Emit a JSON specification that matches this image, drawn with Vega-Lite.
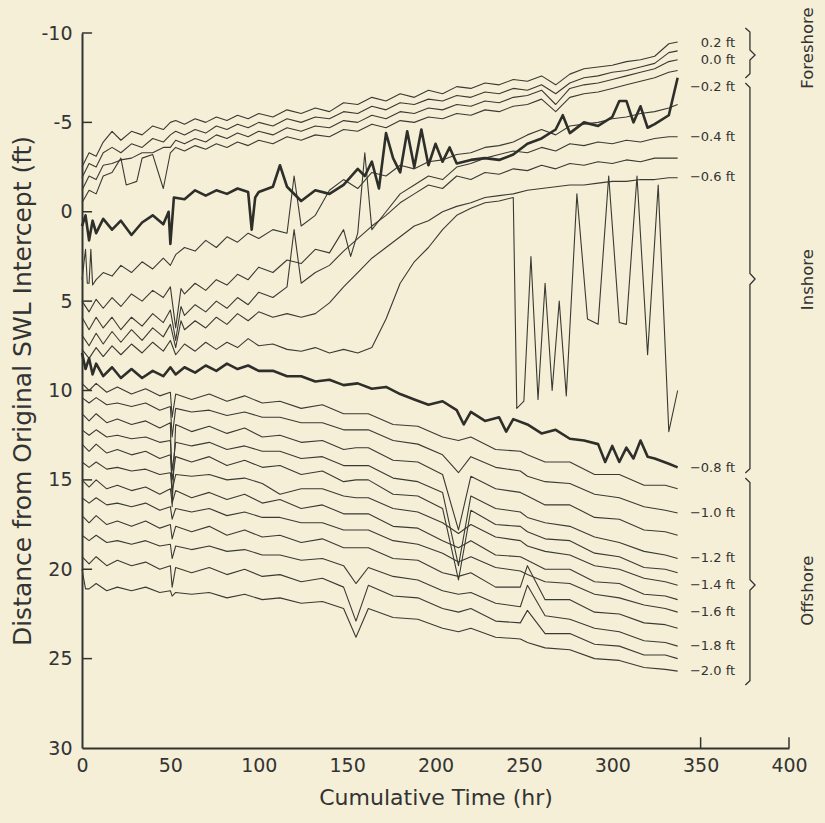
{
"$schema":"https://vega.github.io/schema/vega-lite/v6.json",
"width":707,"height":715,"autosize":"none",
"padding":{"left":82,"top":33,"right":36,"bottom":75},
"background":"#f4efd6",
"config":{"view":{"stroke":null},"axis":{"labelFont":"DejaVu Sans","titleFont":"DejaVu Sans","labelColor":"#333","titleColor":"#333","titleFontWeight":"normal","domainColor":"#333","domainWidth":2},"text":{"font":"DejaVu Sans","color":"#333"}},
"datasets":{
"lines":[
{"t":0,"a":-2.5,"b":-1.9,"c":-1.2,"d":-0.5,"f":3.8,"g":5.0,"h":5.9,"i":6.9},
{"t":4,"a":-3.3,"b":-2.7,"c":-2.0,"d":-1.2,"f":4.0,"g":5.6,"h":6.6,"i":7.5},
{"t":8,"a":-3.1,"b":-2.5,"c":-1.8,"d":-1.0,"f":3.8,"g":4.9,"h":5.9,"i":6.8},
{"t":12,"a":-3.9,"b":-3.3,"c":-2.6,"d":-2.0,"f":3.4,"g":5.4,"h":6.5,"i":7.4},
{"t":17,"a":-4.5,"b":-3.6,"c":-2.7,"d":-2.2,"f":3.6,"g":4.8,"h":5.9,"i":6.7},
{"t":22,"a":-4.0,"b":-3.3,"c":-2.9,"d":-3.0,"f":3.0,"g":5.3,"h":6.6,"i":7.3},
{"t":28,"a":-4.5,"b":-3.8,"c":-3.0,"d":-1.6,"f":3.4,"g":4.6,"h":5.9,"i":6.6},
{"t":34,"a":-4.3,"b":-3.6,"c":-3.3,"d":-3.0,"f":2.8,"g":5.0,"h":6.4,"i":7.2},
{"t":40,"a":-4.8,"b":-4.1,"c":-3.3,"d":-3.2,"f":3.2,"g":4.4,"h":5.7,"i":6.5},
{"t":46,"a":-4.6,"b":-3.9,"c":-3.6,"d":-1.3,"f":2.6,"g":4.8,"h":6.2,"i":7.0},
{"t":50,"a":-5.0,"b":-4.3,"c":-3.6,"d":-3.3,"f":3.0,"g":4.2,"h":5.5,"i":6.3},
{"t":53,"a":-5.1,"b":-4.5,"c":-4.0,"d":-3.6,"f":2.4,"g":6.5,"h":7.2,"i":7.6},
{"t":58,"a":-4.9,"b":-4.3,"c":-3.8,"d":-3.4,"f":2.0,"g":4.6,"h":5.8,"i":6.6},
{"t":64,"a":-5.2,"b":-4.6,"c":-4.1,"d":-3.7,"f":2.2,"g":4.0,"h":5.2,"i":6.1},
{"t":70,"a":-5.0,"b":-4.4,"c":-3.9,"d":-3.5,"f":1.6,"g":4.4,"h":5.6,"i":6.5},
{"t":76,"a":-5.3,"b":-4.8,"c":-4.3,"d":-3.8,"f":2.0,"g":3.8,"h":5.0,"i":5.9},
{"t":82,"a":-5.1,"b":-4.6,"c":-4.1,"d":-3.6,"f":1.4,"g":4.1,"h":5.4,"i":6.3},
{"t":88,"a":-5.4,"b":-4.9,"c":-4.4,"d":-3.9,"f":1.7,"g":3.5,"h":4.8,"i":5.7},
{"t":94,"a":-5.2,"b":-4.7,"c":-4.2,"d":-3.7,"f":1.2,"g":3.8,"h":5.2,"i":6.1},
{"t":100,"a":-5.5,"b":-5.0,"c":-4.5,"d":-4.0,"f":1.5,"g":3.1,"h":4.5,"i":5.6},
{"t":108,"a":-5.3,"b":-4.8,"c":-4.3,"d":-3.8,"f":1.0,"g":3.4,"h":4.8,"i":5.9},
{"t":116,"a":-5.7,"b":-5.2,"c":-4.7,"d":-4.2,"f":1.2,"g":2.7,"h":4.2,"i":5.7},
{"t":124,"a":-5.5,"b":-5.0,"c":-4.5,"d":-4.0,"f":0.8,"g":2.9,"h":4.0,"i":5.9},
{"t":132,"a":-5.8,"b":-5.3,"c":-4.8,"d":-4.3,"f":0.2,"g":2.1,"h":3.4,"i":5.7},
{"t":140,"a":-5.6,"b":-5.2,"c":-4.7,"d":-4.2,"f":-1.2,"g":2.3,"h":3.0,"i":5.1},
{"t":148,"a":-6.1,"b":-5.6,"c":-5.1,"d":-4.6,"f":-1.8,"g":1.0,"h":2.2,"i":4.2},
{"t":156,"a":-6.0,"b":-5.5,"c":-5.0,"d":-4.5,"f":-1.3,"g":1.2,"h":1.5,"i":3.4},
{"t":164,"a":-6.4,"b":-5.9,"c":-5.4,"d":-4.9,"f":-2.2,"g":1.0,"h":0.8,"i":2.6},
{"t":172,"a":-6.2,"b":-5.7,"c":-5.2,"d":-4.7,"f":-2.0,"g":0.0,"h":0.2,"i":2.0},
{"t":180,"a":-6.6,"b":-6.1,"c":-5.6,"d":-5.1,"f":-2.6,"g":-1.0,"h":-0.5,"i":1.4},
{"t":188,"a":-6.4,"b":-6.0,"c":-5.5,"d":-5.0,"f":-2.4,"g":-1.5,"h":-1.0,"i":0.8},
{"t":196,"a":-6.8,"b":-6.3,"c":-5.8,"d":-5.3,"f":-2.8,"g":-2.0,"h":-1.5,"i":0.5},
{"t":204,"a":-6.6,"b":-6.2,"c":-5.7,"d":-5.2,"f":-2.9,"g":-1.8,"h":-1.3,"i":0.0},
{"t":212,"a":-7.0,"b":-6.5,"c":-6.0,"d":-5.5,"f":-3.2,"g":-2.5,"h":-2.0,"i":-0.3},
{"t":220,"a":-6.9,"b":-6.4,"c":-5.9,"d":-5.4,"f":-3.3,"g":-2.7,"h":-1.8,"i":-0.5},
{"t":228,"a":-7.2,"b":-6.7,"c":-6.2,"d":-5.7,"f":-3.6,"g":-3.0,"h":-2.2,"i":-0.8},
{"t":236,"a":-7.1,"b":-6.6,"c":-6.1,"d":-5.6,"f":-3.7,"g":-3.2,"h":-2.1,"i":-0.9},
{"t":244,"a":-7.4,"b":-6.9,"c":-6.4,"d":-5.9,"f":-3.9,"g":-3.4,"h":-2.4,"i":-1.0},
{"t":252,"a":-7.3,"b":-6.8,"c":-6.5,"d":-6.0,"f":-4.3,"g":-3.3,"h":-2.3,"i":-1.2},
{"t":260,"a":-7.6,"b":-7.1,"c":-6.8,"d":-6.3,"f":-4.6,"g":-3.6,"h":-2.6,"i":-1.3},
{"t":268,"a":-7.1,"b":-6.6,"c":-6.0,"d":-5.6,"f":-4.3,"g":-3.4,"h":-2.4,"i":-1.4},
{"t":276,"a":-7.7,"b":-7.2,"c":-6.9,"d":-6.4,"f":-4.8,"g":-3.8,"h":-2.7,"i":-1.5},
{"t":284,"a":-8.0,"b":-7.5,"c":-7.1,"d":-6.6,"f":-4.9,"g":-3.7,"h":-2.6,"i":-1.5},
{"t":292,"a":-8.1,"b":-7.6,"c":-7.2,"d":-6.7,"f":-5.0,"g":-3.9,"h":-2.8,"i":-1.6},
{"t":300,"a":-8.2,"b":-7.8,"c":-7.4,"d":-6.9,"f":-5.2,"g":-3.8,"h":-2.7,"i":-1.7},
{"t":308,"a":-8.4,"b":-7.9,"c":-7.6,"d":-7.1,"f":-5.3,"g":-4.0,"h":-2.9,"i":-1.7},
{"t":316,"a":-8.5,"b":-8.1,"c":-7.8,"d":-7.3,"f":-5.5,"g":-3.9,"h":-2.8,"i":-1.8},
{"t":324,"a":-8.7,"b":-8.3,"c":-8.0,"d":-7.5,"f":-5.6,"g":-4.1,"h":-3.0,"i":-1.8},
{"t":332,"a":-9.4,"b":-8.9,"c":-8.4,"d":-7.8,"f":-5.8,"g":-4.2,"h":-3.0,"i":-1.9},
{"t":337,"a":-9.5,"b":-9.0,"c":-8.5,"d":-7.9,"f":-6.0,"g":-4.2,"h":-3.0,"i":-1.9},
{"t":2,"f":2.1},{"t":3,"f":4.0},{"t":5,"f":2.1},{"t":6,"f":4.1},{"t":25,"d":-1.5},{"t":31,"d":-1.7},
{"t":56,"g":4.3,"h":5.3,"i":6.1},{"t":120,"f":-2.0,"h":1.0},{"t":152,"g":2.5},{"t":160,"g":-3.3},
{"t":0,"e":0.8,"j":7.7,"k":7.9},{"t":2,"e":0.2,"k":8.8},{"t":4,"e":1.6,"j":8.2,"k":8.2},{"t":6,"e":0.5,"k":9.1},
{"t":8,"e":1.2,"j":7.6,"k":8.5},{"t":12,"e":0.4,"j":8.1,"k":9.2},{"t":17,"e":1.0,"j":7.5,"k":8.7},{"t":22,"e":0.5,"j":8.0,"k":9.3},
{"t":28,"e":1.3,"j":7.4,"k":8.8},{"t":34,"e":0.6,"j":7.9,"k":9.3},{"t":40,"e":0.2,"j":7.3,"k":8.9},{"t":46,"e":0.7,"j":7.8,"k":9.2},
{"t":49,"e":0.0},{"t":50,"e":1.8,"j":7.2,"k":8.7},{"t":52,"e":-0.8},{"t":53,"j":8.0,"k":9.1},
{"t":58,"e":-0.7,"j":7.4,"k":8.7},{"t":64,"e":-1.2,"j":7.8,"k":9.0},{"t":70,"e":-0.9,"j":7.3,"k":8.6},{"t":76,"e":-1.2,"j":7.7,"k":8.9},
{"t":82,"e":-1.0,"j":7.3,"k":8.5},{"t":88,"e":-1.3,"j":7.6,"k":8.8},{"t":94,"e":-1.1,"j":7.1,"k":8.6},{"t":96,"e":1.0},{"t":98,"e":-0.8},
{"t":100,"e":-1.1,"j":7.5,"k":8.9},{"t":108,"e":-1.4,"j":7.4,"k":8.9},{"t":112,"e":-2.6},{"t":116,"e":-1.4,"j":7.7,"k":9.2},
{"t":124,"e":-0.6,"j":7.8,"k":9.2},{"t":132,"e":-1.2,"j":7.6,"k":9.5},{"t":140,"e":-1.0,"j":7.9,"k":9.4},{"t":148,"e":-1.5,"j":7.7,"k":9.7},
{"t":156,"e":-2.4,"j":7.9,"k":9.6},{"t":160,"e":-2.0},{"t":164,"e":-2.8,"j":7.6,"k":9.9},{"t":168,"e":-1.3},
{"t":172,"e":-4.4,"j":6.0,"k":9.8},{"t":176,"e":-3.0},{"t":180,"e":-2.2,"j":4.0,"k":10.2},{"t":184,"e":-4.5},
{"t":188,"e":-2.5,"j":2.8,"k":10.5},{"t":192,"e":-4.6},{"t":196,"e":-2.6,"j":2.0,"k":10.8},{"t":200,"e":-3.8},
{"t":204,"e":-2.8,"j":1.0,"k":10.6},{"t":208,"e":-3.6},{"t":212,"e":-2.7,"j":0.2,"k":11.1},{"t":216,"k":11.9},
{"t":220,"e":-2.9,"j":-0.2,"k":11.2},{"t":228,"e":-3.0,"j":-0.5,"k":11.7},{"t":236,"e":-2.9,"j":-0.6,"k":11.5},{"t":240,"k":12.3},
{"t":244,"e":-3.2,"j":-0.8,"k":11.6},{"t":246,"j":11.0},{"t":250,"j":10.6},{"t":252,"e":-3.8,"k":11.9},{"t":254,"j":2.5},
{"t":258,"j":10.5},{"t":260,"e":-4.1,"k":12.4},{"t":262,"j":4.0},{"t":266,"j":10.0},{"t":268,"e":-4.6,"k":12.2},
{"t":270,"j":5.0},{"t":272,"e":-5.4},{"t":274,"j":10.3},{"t":276,"e":-4.4,"k":12.7},{"t":280,"j":-1.0},
{"t":284,"e":-5.0,"k":12.8},{"t":286,"j":6.0},{"t":292,"e":-4.8,"j":6.3,"k":13.0},{"t":296,"k":14.0},{"t":298,"j":-2.0},
{"t":300,"e":-5.3,"k":13.1},{"t":304,"e":-6.2,"j":6.2,"k":14.0},{"t":308,"e":-6.2,"j":6.3,"k":13.2},{"t":312,"e":-5.0,"k":13.8},
{"t":314,"j":-2.0},{"t":316,"e":-5.9,"k":12.8},{"t":320,"e":-4.7,"j":8.0,"k":13.7},{"t":324,"e":-4.9,"k":13.8},{"t":326,"j":-1.5},
{"t":332,"e":-5.4,"j":12.3,"k":14.1},{"t":337,"e":-7.5,"j":10.0,"k":14.3},
{"t":0,"l":9.6,"m":10.4,"n":11.3,"o":12.2,"p":13.0,"q":14.0,"r":15.0,"s":16.0,"u":17.0,"w":18.1,"x":19.3,"z":20.0},
{"t":2,"z":21.1},
{"t":4,"l":10.0,"m":10.7,"n":11.7,"o":12.5,"p":13.4,"q":14.3,"r":15.4,"s":16.3,"u":17.4,"w":18.4,"x":19.7,"z":21.1},
{"t":8,"l":9.6,"m":10.4,"n":11.3,"o":12.2,"p":13.0,"q":14.0,"r":15.0,"s":16.0,"u":17.0,"w":18.1,"x":19.3,"z":20.8},
{"t":14,"l":10.1,"m":10.8,"n":11.8,"o":12.6,"p":13.5,"q":14.4,"r":15.5,"s":16.4,"u":17.5,"w":18.5,"x":19.8,"z":21.2},
{"t":20,"l":9.8,"m":10.7,"n":11.6,"o":12.5,"p":13.3,"q":14.3,"r":15.3,"s":16.3,"u":17.3,"w":18.4,"x":19.5,"z":21.0},
{"t":28,"l":10.2,"m":10.9,"n":11.9,"o":12.7,"p":13.6,"q":14.5,"r":15.6,"s":16.5,"u":17.6,"w":18.6,"x":19.8,"z":21.2},
{"t":36,"l":9.9,"m":10.7,"n":11.7,"o":12.6,"p":13.4,"q":14.4,"r":15.4,"s":16.3,"u":17.3,"w":18.4,"x":19.6,"z":21.0},
{"t":44,"l":10.3,"m":11.1,"n":12.1,"o":12.9,"p":13.8,"q":14.7,"r":15.8,"s":16.7,"u":17.7,"w":18.7,"x":20.0,"z":21.3},
{"t":50,"l":10.1,"m":10.9,"n":11.8,"o":12.8,"p":13.6,"q":14.6,"r":15.5,"s":16.5,"u":17.5,"w":18.6,"x":19.8,"z":21.2},
{"t":51,"l":11.5,"m":12.6,"n":16.5,"o":14.5,"p":15.0,"q":15.6,"r":16.3,"s":17.2,"u":18.3,"w":19.4,"x":21.0,"z":21.5},
{"t":53,"l":10.2,"m":11.0,"n":11.9,"o":12.9,"p":13.7,"q":14.7,"r":15.6,"s":16.6,"u":17.6,"w":18.7,"x":19.9,"z":21.3},
{"t":62,"l":10.5,"m":11.2,"n":12.3,"o":13.1,"p":14.0,"q":14.8,"r":16.0,"s":16.8,"u":17.9,"w":18.9,"x":20.2,"z":21.4},
{"t":72,"l":10.2,"m":11.1,"n":12.0,"o":12.9,"p":13.7,"q":14.7,"r":15.7,"s":16.6,"u":17.6,"w":18.7,"x":19.9,"z":21.3},
{"t":82,"l":10.6,"m":11.4,"n":12.4,"o":13.3,"p":14.2,"q":15.0,"r":16.1,"s":17.0,"u":18.1,"w":19.0,"x":20.3,"z":21.6},
{"t":92,"l":10.3,"m":11.2,"n":12.1,"o":13.1,"p":13.9,"q":14.9,"r":15.8,"s":16.8,"u":17.8,"w":18.9,"x":20.0,"z":21.4},
{"t":102,"l":10.7,"m":11.5,"n":12.6,"o":13.4,"p":14.3,"q":15.2,"r":16.3,"s":17.1,"u":18.2,"w":19.2,"x":20.4,"z":21.7},
{"t":112,"l":10.6,"m":11.5,"n":12.5,"o":13.4,"p":14.2,"q":15.8,"r":16.1,"s":17.1,"u":18.1,"w":19.2,"x":20.3,"z":21.6},
{"t":124,"l":11.0,"m":11.8,"n":12.9,"o":13.8,"p":14.7,"q":15.5,"r":16.6,"s":17.4,"u":18.5,"w":19.5,"x":20.7,"z":21.9},
{"t":136,"l":10.8,"m":11.8,"n":12.8,"o":13.7,"p":14.5,"q":15.5,"r":16.4,"s":17.4,"u":18.3,"w":19.4,"x":20.5,"z":21.8},
{"t":148,"l":11.3,"m":12.2,"n":13.3,"o":14.2,"p":15.1,"q":15.9,"r":16.9,"s":17.8,"u":18.8,"w":19.8,"x":21.0,"z":22.2},
{"t":155,"l":11.3,"m":12.2,"n":13.2,"o":14.2,"p":15.0,"q":16.0,"r":16.9,"s":17.8,"u":18.8,"w":20.8,"x":22.9,"z":23.8},
{"t":162,"l":11.3,"m":12.2,"n":13.2,"o":14.2,"p":15.0,"q":16.0,"r":16.9,"s":17.8,"u":18.8,"w":19.9,"x":20.9,"z":22.2},
{"t":176,"l":11.9,"m":12.8,"n":13.9,"o":14.9,"p":15.8,"q":16.6,"r":17.6,"s":18.4,"u":19.4,"w":20.4,"x":21.5,"z":22.7},
{"t":190,"l":12.0,"m":13.0,"n":14.0,"o":15.1,"p":15.9,"q":16.8,"r":17.7,"s":18.6,"u":19.5,"w":20.6,"x":21.6,"z":22.8},
{"t":204,"l":12.6,"m":13.6,"n":14.7,"o":15.7,"p":16.6,"q":17.4,"r":18.4,"s":19.1,"u":20.2,"w":21.2,"x":22.2,"z":23.3},
{"t":213,"l":12.8,"m":14.6,"n":17.8,"o":19.8,"p":20.6,"q":18.0,"r":18.8,"s":19.6,"u":20.4,"w":21.4,"x":22.4,"z":23.5},
{"t":220,"l":12.6,"m":13.7,"n":14.8,"o":15.9,"p":16.7,"q":17.5,"r":18.4,"s":19.3,"u":20.2,"w":21.3,"x":22.2,"z":23.3},
{"t":234,"l":13.3,"m":14.3,"n":15.5,"o":16.6,"p":17.5,"q":18.2,"r":19.2,"s":19.9,"u":21.0,"w":21.9,"x":22.9,"z":23.8},
{"t":248,"l":13.4,"m":14.5,"n":15.7,"o":16.8,"p":17.6,"q":18.4,"r":19.3,"s":20.1,"u":21.0,"w":22.1,"x":23.0,"z":23.9},
{"t":252,"l":13.6,"m":14.8,"n":15.9,"o":17.1,"p":17.9,"q":18.7,"r":19.5,"s":20.3,"u":19.8,"w":20.9,"x":22.3,"z":24.1},
{"t":262,"l":14.0,"m":15.1,"n":16.4,"o":17.4,"p":18.3,"q":19.0,"r":20.0,"s":20.7,"u":21.7,"w":22.6,"x":23.6,"z":24.4},
{"t":276,"l":14.0,"m":15.2,"n":16.4,"o":17.6,"p":18.4,"q":19.2,"r":20.0,"s":20.8,"u":21.7,"w":22.8,"x":23.6,"z":24.5},
{"t":290,"l":14.7,"m":15.8,"n":17.1,"o":18.2,"p":19.1,"q":19.8,"r":20.7,"s":21.4,"u":22.4,"w":23.3,"x":24.2,"z":25.0},
{"t":304,"l":14.7,"m":16.0,"n":17.2,"o":18.5,"p":19.3,"q":20.0,"r":20.8,"s":21.6,"u":22.5,"w":23.5,"x":24.3,"z":25.1},
{"t":318,"l":15.3,"m":16.5,"n":17.8,"o":19.0,"p":19.9,"q":20.5,"r":21.4,"s":22.0,"u":23.0,"w":24.0,"x":24.8,"z":25.5},
{"t":330,"l":15.3,"m":16.7,"n":17.9,"o":19.2,"p":20.0,"q":20.7,"r":21.5,"s":22.2,"u":23.1,"w":24.1,"x":24.8,"z":25.6},
{"t":337,"l":15.5,"m":16.85,"n":18.1,"o":19.4,"p":20.2,"q":20.9,"r":21.7,"s":22.4,"u":23.3,"w":24.3,"x":25.0,"z":25.7}
],
"labels":[
{"t":369.5,"val":-9.44,"label":"0.2 ft"},{"t":369.5,"val":-8.49,"label":"0.0 ft"},{"t":369.5,"val":-6.98,"label":"−0.2 ft"},
{"t":369.5,"val":-4.18,"label":"−0.4 ft"},{"t":369.5,"val":-1.94,"label":"−0.6 ft"},{"t":369.5,"val":14.34,"label":"−0.8 ft"},
{"t":369.5,"val":16.85,"label":"−1.0 ft"},{"t":369.5,"val":19.37,"label":"−1.2 ft"},{"t":369.5,"val":20.88,"label":"−1.4 ft"},
{"t":369.5,"val":22.39,"label":"−1.6 ft"},{"t":369.5,"val":24.29,"label":"−1.8 ft"},{"t":369.5,"val":25.69,"label":"−2.0 ft"}
],
"regions":[
{"t":411,"val":-9.16,"label":"Foreshore"},{"t":411,"val":3.8,"label":"Inshore"},{"t":411,"val":21.2,"label":"Offshore"}
],
"braces":[
{"b":"F","o":1,"t":375.3,"val":-10.28},{"b":"F","o":2,"t":377.9,"val":-10.05},{"b":"F","o":3,"t":377.9,"val":-9.05},{"b":"F","o":4,"t":380.8,"val":-8.77},{"b":"F","o":5,"t":377.9,"val":-8.49},{"b":"F","o":6,"t":377.9,"val":-7.72},{"b":"F","o":7,"t":375.3,"val":-7.48},
{"b":"I","o":1,"t":375.3,"val":-7.2},{"b":"I","o":2,"t":377.9,"val":-6.95},{"b":"I","o":3,"t":377.9,"val":3.45},{"b":"I","o":4,"t":380.8,"val":3.76},{"b":"I","o":5,"t":377.9,"val":4.07},{"b":"I","o":6,"t":377.9,"val":14.38},{"b":"I","o":7,"t":375.3,"val":14.62},
{"b":"O","o":1,"t":375.3,"val":14.9},{"b":"O","o":2,"t":377.9,"val":15.15},{"b":"O","o":3,"t":377.9,"val":20.58},{"b":"O","o":4,"t":380.8,"val":20.88},{"b":"O","o":5,"t":377.9,"val":21.18},{"b":"O","o":6,"t":377.9,"val":26.23},{"b":"O","o":7,"t":375.3,"val":26.48}
],
"ticks":[
{"t":0,"t2":5.7,"val":-10,"v2":-10},{"t":0,"t2":5.7,"val":-5,"v2":-5},{"t":0,"t2":5.7,"val":0,"v2":0},{"t":0,"t2":5.7,"val":5,"v2":5},
{"t":0,"t2":5.7,"val":10,"v2":10},{"t":0,"t2":5.7,"val":15,"v2":15},{"t":0,"t2":5.7,"val":20,"v2":20},{"t":0,"t2":5.7,"val":25,"v2":25},
{"t":350,"t2":350,"val":30,"v2":29.4},{"t":400,"t2":400,"val":30,"v2":29.4}
]
},
"encoding":{
"x":{"field":"t","type":"quantitative","scale":{"domain":[0,400],"nice":false,"zero":false},
 "axis":{"values":[0,50,100,150,200,250,300,350,400],"ticks":false,"grid":false,"title":"Cumulative Time (hr)","labelFontSize":19,"titleFontSize":22,"labelPadding":8,"titlePadding":12,"labelFlush":false}},
"y":{"field":"val","type":"quantitative","scale":{"domain":[-10,30],"reverse":true,"nice":false,"zero":false},
 "axis":{"values":[-10,-5,0,5,10,15,20,25,30],"ticks":false,"grid":false,"title":"Distance from Original SWL Intercept (ft)","labelFontSize":19,"titleFontSize":25,"labelPadding":10,"titlePadding":5,"labelExpr":"'' + datum.value","labelFlush":false}}
},
"layer":[
{"data":{"name":"lines"},
 "transform":[{"fold":["a","b","c","d","e","f","g","h","i","j","k","l","m","n","o","p","q","r","s","u","w","x","z"],"as":["line","val"]},{"filter":"isValid(datum.val)"},{"filter":{"not":{"field":"line","oneOf":["e","k"]}}}],
 "mark":{"type":"line","color":"#3a3a34","strokeWidth":1.1,"strokeJoin":"round"},
 "encoding":{"detail":{"field":"line"}}},
{"data":{"name":"lines"},
 "transform":[{"fold":["a","b","c","d","e","f","g","h","i","j","k","l","m","n","o","p","q","r","s","u","w","x","z"],"as":["line","val"]},{"filter":"isValid(datum.val)"},{"filter":{"field":"line","oneOf":["e","k"]}}],
 "mark":{"type":"line","color":"#2e2e2a","strokeWidth":2.6,"strokeJoin":"round"},
 "encoding":{"detail":{"field":"line"}}},
{"data":{"name":"ticks"},
 "mark":{"type":"rule","color":"#333","strokeWidth":1.5},
 "encoding":{"x2":{"field":"t2"},"y2":{"field":"v2"}}},
{"data":{"name":"braces"},
 "mark":{"type":"line","color":"#333","strokeWidth":1.3,"clip":false},
 "encoding":{"detail":{"field":"b"},"order":{"field":"o"}}},
{"data":{"name":"labels"},
 "mark":{"type":"text","align":"right","baseline":"middle","fontSize":13,"clip":false},
 "encoding":{"text":{"field":"label"}}},
{"data":{"name":"regions"},
 "mark":{"type":"text","align":"center","baseline":"middle","angle":270,"fontSize":16.5,"clip":false},
 "encoding":{"text":{"field":"label"}}}
]
}
